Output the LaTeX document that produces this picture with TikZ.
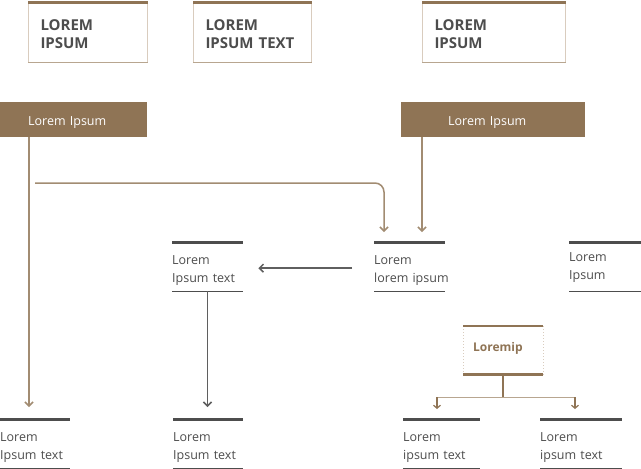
\documentclass[tikz,border=0pt]{standalone}
\usepackage{fontspec}
\setmainfont{Open Sans}
\usetikzlibrary{arrows.meta}
\definecolor{brn}{HTML}{8F7455}
\definecolor{brnl}{HTML}{A28C72}
\definecolor{beige}{HTML}{D9CCBE}
\definecolor{beiged}{HTML}{B8A690}
\definecolor{dg}{HTML}{4D4D4D}
\newcommand\st[1]{\rule{0pt}{#1}}
\tikzset{
  lnode/.style={anchor=north west, inner xsep=0pt, inner ysep=0pt, text width=#1,
    align=left, minimum height=49pt, text=dg, font=\fontsize{12.5}{18}\selectfont},
  topbox/.style={anchor=north west, draw=beige, line width=1pt, minimum width=#1,
    minimum height=61pt, inner xsep=12pt, text width=#1-24pt, align=left, text=dg,
    font=\fontsize{15}{18}\selectfont\bfseries},
  bar/.style={anchor=north west, fill=brn, text=white, minimum height=35pt,
    inner ysep=0pt, align=left, font=\fontsize{12.5}{15}\selectfont},
  topline/.style={draw=dg, line width=3pt},
  botline/.style={draw=dg, line width=1.2pt},
  bconn/.style={draw=brnl, line width=1.5pt, -{Straight Barb[length=4pt,width=8pt]}},
  gconn/.style={draw=dg!90, line width=1.5pt, -{Straight Barb[length=4pt,width=8pt]}},
  tiptop/.style={draw=brn, line width=3pt},
}
\newcommand\nodelines[1]{%
  \draw[topline] (#1.north west) -- (#1.north east);
  \draw[botline] (#1.south west) -- (#1.south east);}
\begin{document}
\begin{tikzpicture}[x=1pt,y=-1pt]
\useasboundingbox[fill=white] (0,0) rectangle (641,469);

% top boxes
\node[topbox=119pt] (t1) at (28,0.5) {\st{16.5pt}LOREM\\IPSUM};
\node[topbox=118pt] (t2) at (193,0.5) {\st{16.5pt}LOREM\\IPSUM TEXT};
\node[topbox=143pt] (t3) at (422,0.5) {\st{16.5pt}LOREM\\IPSUM};
\foreach \t in {t1,t2,t3}{
  \draw[tiptop] ([yshift=-1.5pt]\t.north west) -- ([yshift=-1.5pt]\t.north east);
  \draw[draw=beiged, line width=1pt] (\t.south west) -- (\t.south east);
}

% bars
\node[bar, minimum width=147pt, inner xsep=28pt, text width=91pt] (b1) at (0,102) {\st{15pt}Lorem Ipsum};
\node[bar, minimum width=184pt, inner xsep=47pt, text width=90pt] (b2) at (401,102) {\st{15pt}Lorem Ipsum};

% middle row
\node[lnode=71pt] (l1) at (172,242) {\st{17pt}Lorem\\Ipsum text};
\node[lnode=71pt] (m) at (374,242) {\st{17pt}Lorem\\\mbox{lorem ipsum}};
\node[lnode=72pt] (rr) at (569,242) {\st{11pt}Lorem\\Ipsum};
\nodelines{l1}\nodelines{m}\nodelines{rr}

% bottom row
\node[lnode=70pt] (bl) at (0,419) {\st{17pt}Lorem\\Ipsum text};
\node[lnode=70pt] (lb2) at (173,419) {\st{17pt}Lorem\\Ipsum text};
\node[lnode=77pt] (r1) at (403,419) {\st{17pt}Lorem\\ipsum text};
\node[lnode=82pt] (r2) at (540,419) {\st{17pt}Lorem\\ipsum text};
\nodelines{bl}\nodelines{lb2}\nodelines{r1}\nodelines{r2}

% Loremip box
\node[anchor=north west, minimum width=80pt, minimum height=48pt, inner xsep=10pt,
  text width=60pt, align=left, text=brn, font=\fontsize{12}{15}\selectfont\bfseries] (lp) at (463,326) {Loremip\rule[-7pt]{0pt}{7pt}};
\draw[beige, line width=1pt, dotted] (lp.north west) -- (lp.south west);
\draw[beige, line width=1pt, dotted] (lp.north east) -- (lp.south east);
\draw[brn, line width=2.5pt] (lp.north west) -- (lp.north east);
\draw[brn, line width=2.5pt] (lp.south west) -- (lp.south east);

% connectors
\draw[bconn] ([xshift=29pt]b1.south west) -- ([xshift=29pt,yshift=12pt]bl.north west);
\coordinate (hs) at (35,183);
\coordinate (ta) at ([xshift=10pt,yshift=10pt]m.north west);
\draw[bconn, rounded corners=9pt] (hs) -- (hs -| ta) -- (ta);
\draw[bconn] ([xshift=21pt]b2.south west) -- ([xshift=48pt,yshift=10pt]m.north west);
\draw[gconn] ([xshift=-22pt,yshift=-1.5pt]m.west) -- ([xshift=15pt,yshift=-1.5pt]l1.east);
\draw[gconn] ([xshift=35.5pt]l1.south west) -- ([xshift=34.5pt,yshift=12pt]lb2.north west);

\coordinate (j) at ([yshift=-23pt]lp.south);
\coordinate (a1) at ([xshift=34pt,yshift=10pt]r1.north west);
\coordinate (a2) at ([xshift=35pt,yshift=10pt]r2.north west);
\draw[brn, line width=1.5pt] (lp.south) -- (j);
\draw[beiged, line width=1.5pt] (a1 |- j) -- (a2 |- j);
\draw[draw=brn, line width=1.2pt, -{Straight Barb[length=3pt,width=7pt]}] (a1 |- j) -- (a1);
\draw[draw=brn, line width=1.2pt, -{Straight Barb[length=3pt,width=7pt]}] (a2 |- j) -- (a2);
\end{tikzpicture}
\end{document}
